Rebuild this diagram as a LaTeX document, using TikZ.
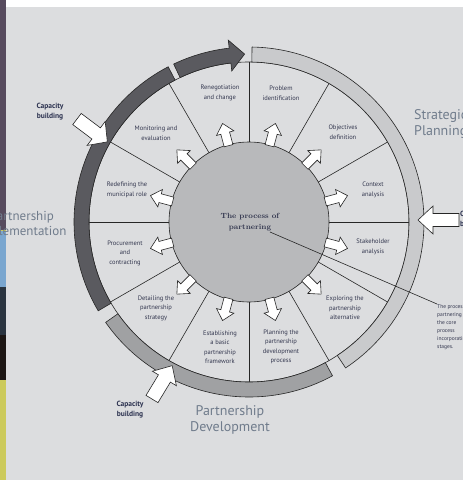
\documentclass[tikz,border=0pt]{standalone}
\usepackage{fontspec}
\newfontfamily\lab{PT Sans}
\definecolor{bg}{RGB}{220,221,223}
\definecolor{lightband}{RGB}{201,202,204}
\definecolor{medband}{RGB}{160,161,163}
\definecolor{darkband}{RGB}{90,90,95}
\definecolor{innerc}{RGB}{184,185,187}
\definecolor{txt}{RGB}{50,54,78}
\definecolor{bigc}{RGB}{112,124,140}
\definecolor{capc}{RGB}{44,50,80}
\definecolor{purp}{RGB}{87,75,94}
\definecolor{lblue}{RGB}{122,166,207}
\definecolor{dnavy}{RGB}{42,52,64}
\definecolor{dblack}{RGB}{28,22,20}
\definecolor{yel}{RGB}{204,202,92}
% #1 tail, #2 angle, #3 length, #4 body half width, #5 head half width, #6 head length, #7 style
\newcommand{\barrow}[7]{\draw[#7, shift={#1}, rotate=#2] (0,-#4) -- ({#3-#6},-#4) -- ({#3-#6},-#5) -- (#3,0) -- ({#3-#6},#5) -- ({#3-#6},#4) -- (0,#4) -- cycle;}
% #1 start angle, #2 end angle, #3 outer r, #4 inner r, #5 style
\newcommand{\band}[5]{\draw[#5] (#1:#3) arc[start angle=#1,end angle=#2,radius=#3pt] -- (#2:#4) arc[start angle=#2,end angle=#1,radius=#4pt] -- cycle;}
\begin{document}
\begin{tikzpicture}[x=1pt,y=1pt,
  seg/.style={font=\lab\fontsize{6.5}{9.5}\selectfont, text=txt, align=center, inner sep=0},
  big/.style={font=\lab\fontsize{14}{15.5}\selectfont, text=bigc, align=center, inner sep=0},
  capl/.style={font=\lab\bfseries\fontsize{7.5}{10}\selectfont, text=capc, align=center, inner sep=0},
  ln/.style={draw=black!85, line width=0.6pt},
  warrow/.style={ln, fill=white, line join=miter},
]
\useasboundingbox (-249,-258) rectangle (214,222);
\clip (-249,-258) rectangle (214,222);
% background
\fill[bg] (-249,-258) rectangle (214,222);
\fill[white] (-243,215) rectangle (214,222);
\fill[purp] (-249,222) rectangle (-243,-8);
\fill[yel] (-249,-8) rectangle (-243,-9);
\fill[lblue] (-249,-9) rectangle (-243,-65);
\fill[dnavy] (-249,-65) rectangle (-243,-113);
\fill[dblack] (-249,-113) rectangle (-243,-158);
\fill[yel] (-249,-158) rectangle (-243,-258);
% segment disc
\draw[ln] (0,0) circle (160pt);
\foreach \a in {0,30,...,330} \draw[ln] (\a:80) -- (\a:160);
% outer bands
\band{89}{-56.5}{175}{160}{ln, fill=lightband}
\band{-145}{-61.5}{175}{160}{ln, fill=medband}
\band{117.5}{210.5}{175}{160}{ln, fill=darkband}
\draw[ln, fill=darkband, line join=miter] (115.5:175) arc[start angle=115.5,end angle=96.5,radius=175pt] -- (96.5:183) -- (91.5:168) -- (96.5:152) -- (96.5:160) arc[start angle=96.5,end angle=115.5,radius=160pt] -- cycle;
% inner circle
\draw[ln, fill=innerc] (0,0) circle (80pt);
\node[font=\bfseries\fontsize{7.5}{11}\selectfont, text=txt, align=center, inner sep=0] (ctr) at (1,0) {The process of\\partnering};
% inner arrows
\foreach \a in {15,45,...,345} {\barrow{(\a:79)}{\a}{23}{4.5}{9}{10}{warrow}}
% segment labels
\node[seg] (s1) at (32,129) {Problem\\identification};
\node[seg] (s2) at (94,90) {Objectives\\definition};
\node[seg] (s3) at (124,32) {Context\\analysis};
\node[seg] (s4) at (124,-25) {Stakeholder\\analysis};
\node[seg] (s5) at (96,-86) {Exploring the\\partnership\\alternative};
\node[seg] (s6) at (32,-125) {Planning the\\partnership\\development\\process};
\node[seg] (s7) at (-29,-125) {Establishing\\a basic\\partnership\\framework};
\node[seg] (s8) at (-93,-86) {Detailing the\\partnership\\strategy};
\node[seg] (s9) at (-124,-31) {Procurement\\and\\contracting};
\node[seg] (s10) at (-122,32) {Redefining the\\municipal role};
\node[seg] (s11) at (-93,89) {Monitoring and\\evaluation};
\node[seg] (s12) at (-29,129) {Renegotiation\\and change};
% capacity building arrows
\barrow{(-172,103)}{-37}{38}{7}{15}{14}{warrow}
\barrow{(-97,-177)}{58.8}{39}{7}{14}{15}{warrow}
\barrow{(210,2)}{180}{41}{6.5}{14}{15}{warrow}
\node[capl] (c1) at (-199,110) {Capacity\\building};
\node[capl] (c2) at (-119,-188) {Capacity\\building};
\node[capl, anchor=west, align=left] (c3) at (211,2) {Capacity\\building};
% big labels
\node[big, anchor=west, align=left] (sp) at (165,98) {Strategic\\Planning};
\node[big, font=\lab\fontsize{13}{15}\selectfont] (pi) at (-227,-3) {Partnership\\Implementation};
\node[big] (pd) at (-19,-198) {Partnership\\Development};
% annotation
\coordinate (p1) at (21,-10);
\node[font=\lab\fontsize{5.5}{8}\selectfont, text=txt, align=left, anchor=north west, inner sep=0] (ann) at (188,-82) {The process of\\partnering is\\the core\\process\\incorporating\\stages.};
\draw[ln] (p1) -- (ann.north west);
\end{tikzpicture}
\end{document}
